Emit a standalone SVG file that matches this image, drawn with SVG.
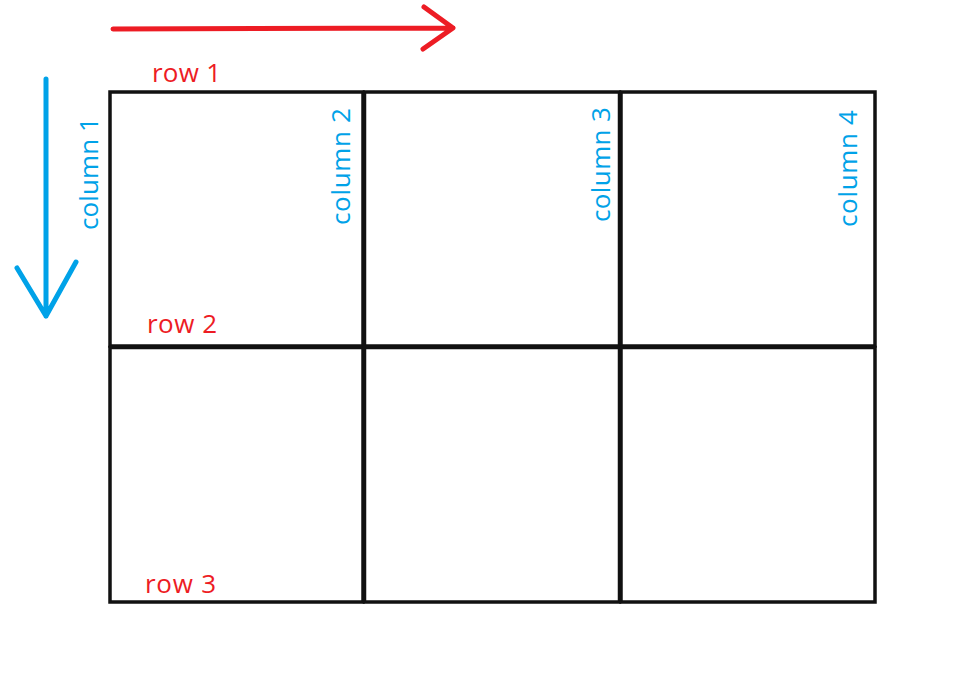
<svg xmlns="http://www.w3.org/2000/svg" width="970" height="689" viewBox="0 0 970 689">
<style>
.cell{fill:#fff;stroke:#111;stroke-width:3.5}
.red{fill:#ed1c24;font-family:"Open Sans","Noto Sans",sans-serif;font-size:26px}
.blue{fill:#00a2e8;font-family:"Open Sans","Noto Sans",sans-serif;font-size:26px}
.ra{fill:none;stroke:#ed1c24;stroke-width:5;stroke-linecap:round;stroke-linejoin:round}
.ba{fill:none;stroke:#00a2e8;stroke-width:5;stroke-linecap:round;stroke-linejoin:round}
</style>
<rect width="970" height="689" fill="#fff"/>
<g id="grid">
<g id="cell-1-1"><rect class="cell" x="110" y="92" width="253" height="254"/></g>
<g id="cell-1-2"><rect class="cell" x="364.5" y="92" width="255" height="254"/></g>
<g id="cell-1-3"><rect class="cell" x="621" y="92" width="254" height="254"/></g>
<g id="cell-2-1"><rect class="cell" x="110" y="347.5" width="253" height="254.5"/></g>
<g id="cell-2-2"><rect class="cell" x="364.5" y="347.5" width="255" height="254.5"/></g>
<g id="cell-2-3"><rect class="cell" x="621" y="347.5" width="254" height="254.5"/></g>
</g>
<g id="connectors">
<path class="ra" d="M113 29 L453 28 M424 7 L453 28 L423 49"/>
<path class="ba" d="M46 79 L46 316 M17 268 L46 316 L76 262"/>
</g>
<g id="labels">
<text class="red" x="152" y="82" textLength="69">row 1</text>
<text class="red" x="147" y="333" textLength="70">row 2</text>
<text class="red" x="145" y="593" textLength="71">row 3</text>
<text class="blue" transform="translate(98 230) rotate(-90)" textLength="113">column 1</text>
<text class="blue" transform="translate(350 225) rotate(-90)" textLength="117">column 2</text>
<text class="blue" transform="translate(610 222) rotate(-90)" textLength="115">column 3</text>
<text class="blue" transform="translate(857 227) rotate(-90)" textLength="117">column 4</text>
</g>
</svg>
